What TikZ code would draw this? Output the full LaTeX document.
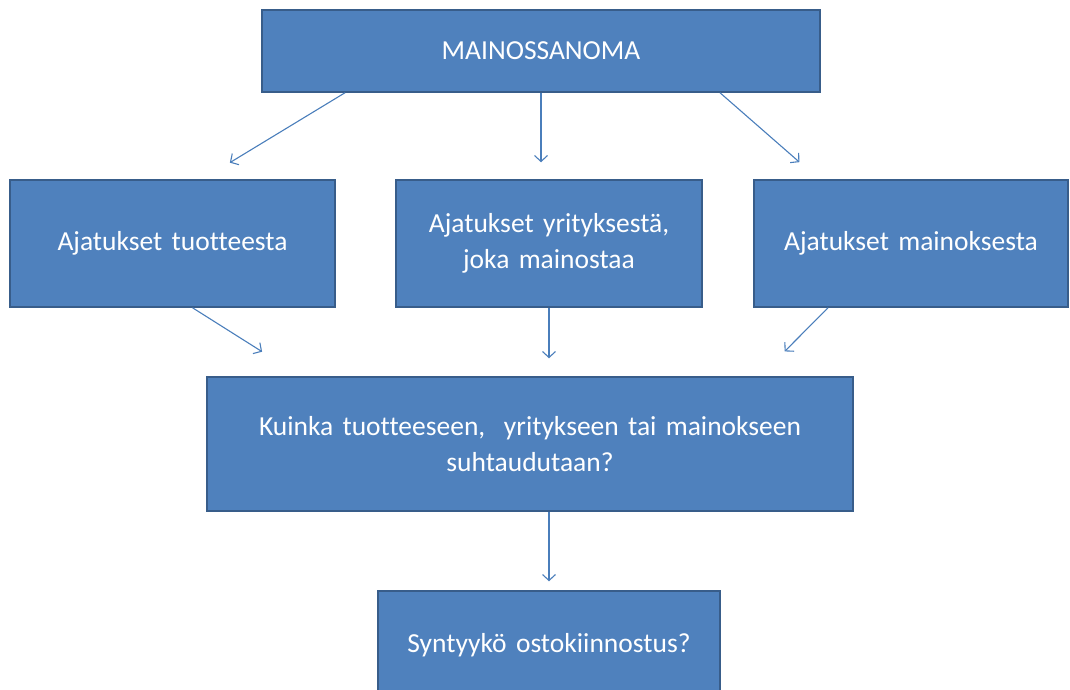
\documentclass[tikz,border=0pt]{standalone}
\usepackage{fontspec}
\setmainfont[Ligatures=NoCommon, WordSpace=1.5]{Carlito}
\usepackage{xcolor}
\usetikzlibrary{arrows.meta}

\definecolor{boxfill}{HTML}{4F81BD}
\definecolor{boxline}{HTML}{385D8A}
\definecolor{linkline}{HTML}{4A7EBB}

\begin{document}
\begin{tikzpicture}[x=1pt, y=-1pt,
        box/.style={draw=boxline, line width=1.5pt, fill=boxfill, text=white, inner sep=0pt, align=center, font=\fontsize{27.5}{36}\selectfont},
        link/.style={draw=linkline, line width=1.1pt, -{Straight Barb[length=6pt, width=13pt]}}]
        \useasboundingbox (0,0) rectangle (1070,689);

        \node [box, minimum width=558pt, minimum height=82pt] (title) at (541, 51) {MAINOSSANOMA};

        \node [box, minimum width=325pt, minimum height=127pt] (tuote) at (172.5, 243.5) {Ajatukset tuotteesta};
        \node [box, minimum width=306pt, minimum height=127pt] (yritys) at (549, 243.5) {Ajatukset yrityksestä,\\joka mainostaa};
        \node [box, minimum width=314pt, minimum height=127pt] (mainos) at (911, 243.5) {Ajatukset mainoksesta};

        \node [box, minimum width=646pt, minimum height=134pt] (kuinka) at (530, 444) {Kuinka tuotteeseen,\ \ yritykseen tai mainokseen\\suhtaudutaan?};

        \node [box, minimum width=342pt, minimum height=108pt] (synty) at (549, 645) {Syntyykö ostokiinnostus?};

        \draw [link, shorten >=32pt] ([xshift=-196pt]title.south) -- ([xshift=30pt]tuote.north);
        \draw [link, shorten >=17pt] (title.south) -- ([xshift=-8pt]yritys.north);
        \draw [link, shorten >=26pt] ([xshift=179pt]title.south) -- ([xshift=-92pt]mainos.north);

        \draw [link, shorten >=46pt] ([xshift=20pt]tuote.south) -- ([xshift=-229pt]kuinka.north);
        \draw [link, shorten >=18pt] (yritys.south) -- ([xshift=19pt]kuinka.north);
        \draw [link, shorten >=35pt] ([xshift=-83pt]mainos.south) -- ([xshift=230pt]kuinka.north);

        \draw [link, shorten >=9pt] ([xshift=19pt]kuinka.south) -- (synty.north);
    \end{tikzpicture}
\end{document}
